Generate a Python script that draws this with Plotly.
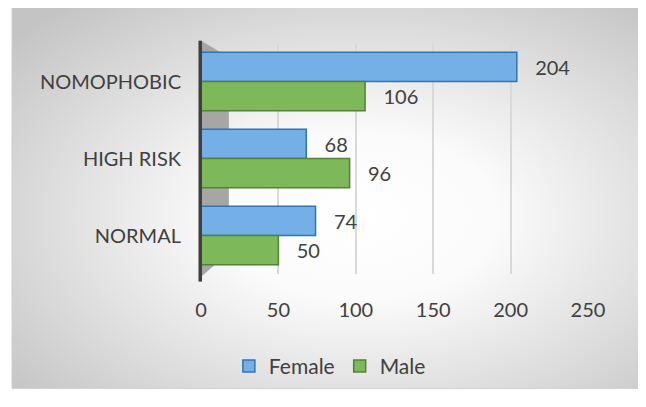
import base64
import plotly.graph_objects as go

categories = ["NOMOPHOBIC", "HIGH RISK", "NORMAL"]
female = [204, 68, 74]
male = [106, 96, 50]
x_ticks = [0, 50, 100, 150, 200, 250]

FONT = "Lato"
TXT = "#404040"

# radial gradient background as an inline SVG image
svg = (
    '<svg xmlns="http://www.w3.org/2000/svg" width="632" height="402">'
    '<defs><radialGradient id="g" cx="0.55" cy="0.55" r="0.72">'
    '<stop offset="0" stop-color="#ffffff"/>'
    '<stop offset="0.3" stop-color="#fbfbfb"/>'
    '<stop offset="1" stop-color="#c4c4c4"/>'
    '</radialGradient></defs>'
    '<rect width="632" height="402" fill="url(#g)"/></svg>'
)
bg_src = "data:image/svg+xml;base64," + base64.b64encode(svg.encode()).decode()

PAD = "\u00a0\u00a0\u00a0"

fig = go.Figure()
fig.add_trace(go.Bar(
    name="Female", y=categories, x=female, orientation="h",
    marker=dict(color="#74afe6", line=dict(color="#2e75b6", width=1.5)),
    texttemplate=PAD + "%{x}", textposition="outside",
    textfont=dict(family=FONT, size=20, color=TXT), cliponaxis=False,
))
fig.add_trace(go.Bar(
    name="Male", y=categories, x=male, orientation="h",
    marker=dict(color="#7db85a", line=dict(color="#548235", width=1.5)),
    texttemplate=PAD + "%{x}", textposition="outside",
    textfont=dict(family=FONT, size=20, color=TXT), cliponaxis=False,
))

fig.update_layout(
    width=638, height=391,
    margin=dict(l=193, r=58, t=35, b=114),
    paper_bgcolor="white",
    plot_bgcolor="rgba(0,0,0,0)",
    barmode="group", bargap=0.24, bargroupgap=0.0,
    font=dict(family=FONT, size=20, color=TXT),
    showlegend=True,
    legend=dict(orientation="h", x=0.333, xanchor="center", y=-0.40, yanchor="middle",
                font=dict(family=FONT, size=21, color=TXT), bgcolor="rgba(0,0,0,0)",
                itemwidth=30, traceorder="normal"),
    xaxis=dict(range=[0, 250], tickvals=x_ticks, ticktext=[str(v) for v in x_ticks],
               showgrid=True, gridcolor="#d9d9d9", gridwidth=1.5, zeroline=False,
               showline=False, ticks="", ticklabelstandoff=22,
               tickfont=dict(family=FONT, size=20, color=TXT)),
    yaxis=dict(categoryorder="array", categoryarray=categories, autorange="reversed",
               showgrid=False, zeroline=False, showline=False, ticks="",
               ticklabelstandoff=19,
               tickfont=dict(family=FONT, size=20, color=TXT)),
    images=[dict(source=bg_src, xref="paper", yref="paper",
                 x=-0.4884, y=1.157, sizex=1.6331, sizey=1.653,
                 xanchor="left", yanchor="top", sizing="stretch", layer="below")],
    shapes=[
        dict(type="rect", xref="paper", yref="paper", x0=-0.4884, x1=1.1447,
             y0=-0.496, y1=1.157, line=dict(color="#d0d0d0", width=1),
             fillcolor="rgba(0,0,0,0)", layer="below"),
        dict(type="path", xref="x domain", yref="y domain",
             path="M 0,1.01 L 0.072,0.938 L 0.072,0.091 L 0,-0.012 Z",
             fillcolor="#a6a6a6", line=dict(width=0), layer="below"),
        dict(type="line", xref="x domain", yref="y domain",
             x0=-0.002, x1=-0.002, y0=1.01, y1=-0.033,
             line=dict(color="#404040", width=3.5), layer="above"),
    ],
)

fig.write_html("out.html")
